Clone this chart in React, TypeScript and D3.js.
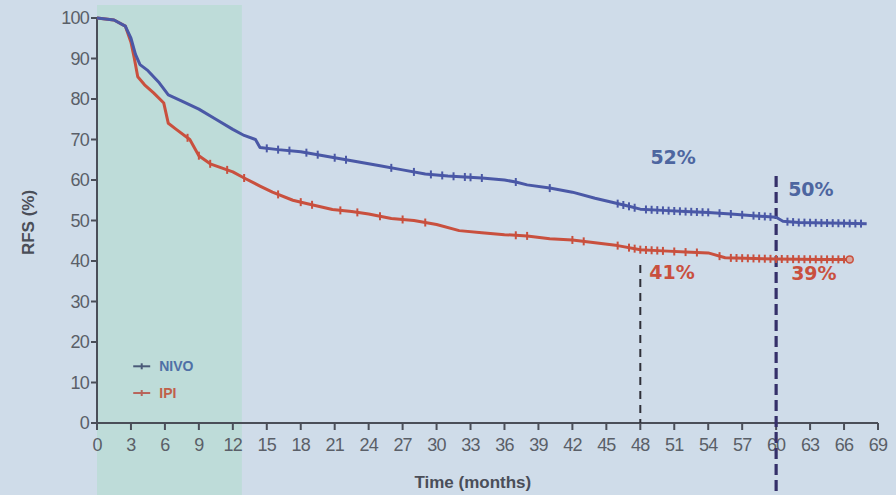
import React from "react";
import * as d3 from "d3";

// Kaplan–Meier relapse-free survival, NIVO vs IPI
const nivoTimes = [0, 1.5, 2.5, 3, 3.4, 3.8, 4.5, 5.5, 6.3, 7.5, 9, 10.5, 12, 13, 14, 14.4, 16, 18, 20, 21, 23, 25, 27, 29, 31, 34, 36, 37, 38, 40, 42, 44, 45.5, 47, 48, 50, 52, 54, 56, 58, 60, 60.6, 62, 66, 68];
const nivoRfs = [100, 99.5, 98, 95, 91, 88.5, 87, 84, 81, 79.5, 77.5, 75, 72.5, 71, 70, 68, 67.5, 67, 66, 65.5, 64.5, 63.5, 62.5, 61.5, 61, 60.5, 60, 59.5, 58.8, 58, 57, 55.5, 54.5, 53.5, 52.8, 52.5, 52.2, 52, 51.6, 51.2, 50.8, 49.8, 49.5, 49.3, 49.2];

const ipiTimes = [0, 1.5, 2.5, 3, 3.3, 3.6, 4.2, 5, 5.9, 6.3, 7, 8.2, 9, 10, 11, 12, 13, 14.4, 15.5, 17.3, 18.5, 20.8, 22.5, 24, 26, 28, 30, 32, 34, 36, 38, 40, 42, 44, 46, 48, 50, 52, 54, 55.5, 60, 64, 66.5];
const ipiRfs = [100, 99.5, 98, 94, 90, 85.5, 83.5, 81.5, 79, 74, 72.5, 70, 66, 64, 63, 62, 60.5, 58.5, 57, 55, 54.2, 52.7, 52.2, 51.6, 50.5, 50, 49, 47.5, 47, 46.5, 46.2, 45.5, 45.2, 44.5, 43.8, 42.8, 42.5, 42.2, 42, 40.8, 40.5, 40.4, 40.4];

const nivoCensored = [15, 16, 17, 18.5, 19.5, 21, 22, 26, 28, 29.5, 30.5, 31.5, 32.5, 33, 34, 37, 40, 46, 46.5, 47, 47.5, 48.5, 49, 49.5, 50, 50.5, 51, 51.5, 52, 52.5, 53, 53.5, 54, 55, 56, 57, 58, 58.5, 59, 59.5, 61, 61.5, 62, 62.5, 63, 63.5, 64, 64.5, 65, 65.5, 66, 66.5, 67, 67.5];
const ipiCensored = [8, 9, 10, 11.5, 13, 16, 18, 19, 21.5, 23, 25, 27, 29, 37, 38, 42, 43, 46, 47, 47.5, 48, 48.5, 49, 49.5, 50, 51, 52, 53, 55, 56, 56.5, 57, 57.5, 58, 58.5, 59, 59.5, 60, 60.5, 61, 61.5, 62, 62.5, 63, 63.5, 64, 64.5, 65, 65.5, 66];

const xTicks = d3.range(0, 70, 3);
const yTicks = d3.range(0, 101, 10);

// Landmark estimates
const landmarks = [
  { series: "NIVO", time: 48, value: 52 },
  { series: "NIVO", time: 60, value: 50 },
  { series: "IPI", time: 48, value: 41 },
  { series: "IPI", time: 60, value: 39 },
];

const W = 896;
const H = 495;
const BLUE = "#4a58a6";
const RED = "#c9503e";

export default function App() {
  const x = d3.scaleLinear().domain([0, 69]).range([97, 878]);
  const y = d3.scaleLinear().domain([0, 100]).range([423, 18]);

  const line = d3
    .line<[number, number]>()
    .x((d) => x(d[0]))
    .y((d) => y(d[1]))
    .curve(d3.curveLinear);

  const nivoPts = nivoTimes.map((t, i) => [t, nivoRfs[i]] as [number, number]);
  const ipiPts = ipiTimes.map((t, i) => [t, ipiRfs[i]] as [number, number]);

  const interp = (ts: number[], vs: number[], t: number) => {
    const i = d3.bisectRight(ts, t);
    if (i <= 0) return vs[0];
    if (i >= ts.length) return vs[vs.length - 1];
    const f = (t - ts[i - 1]) / (ts[i] - ts[i - 1]);
    return vs[i - 1] + f * (vs[i] - vs[i - 1]);
  };

  const font = "'Liberation Sans', Arial, sans-serif";
  const wide = "'DejaVu Sans', Verdana, sans-serif";

  const lm = (s: string, t: number) => landmarks.find((d) => d.series === s && d.time === t)!;

  return (
    <svg
      width={W}
      height={H}
      style={{ position: "absolute", left: 0, top: 0, display: "block" }}
      fontFamily={font}
    >
      <rect x={0} y={0} width={W} height={H} fill="#cfdce9" />
      {/* first-year treatment window */}
      <rect x={x(0)} y={5} width={x(12.8) - x(0)} height={H - 5} fill="#bedcd9" />

      {/* axes */}
      <g stroke="#4a4e58" strokeWidth={2}>
        <line x1={x(0)} x2={x(0)} y1={y(100)} y2={y(0)} />
        <line x1={x(0)} x2={x(69)} y1={y(0)} y2={y(0)} />
        {yTicks.map((v) => (
          <line key={"yt" + v} x1={x(0) - 6} x2={x(0)} y1={y(v)} y2={y(v)} />
        ))}
        {xTicks.map((v) => (
          <line key={"xt" + v} x1={x(v)} x2={x(v)} y1={y(0)} y2={y(0) + 7} />
        ))}
      </g>
      <g fill="#5a5f68" fontSize={18} letterSpacing={-0.8}>
        {yTicks.map((v) => (
          <text key={"yl" + v} x={x(0) - 8} y={y(v)} dy="0.35em" textAnchor="end">
            {v}
          </text>
        ))}
        {xTicks.map((v) => (
          <text key={"xl" + v} x={x(v)} y={y(0) + 28} textAnchor="middle">
            {v}
          </text>
        ))}
      </g>
      <text x={x(33.2)} y={488} textAnchor="middle" fontSize={17} fontWeight="bold" fill="#4a4e58">
        Time (months)
      </text>
      <text
        transform={`translate(34, ${y(50) + 2}) rotate(-90)`}
        textAnchor="middle"
        fontSize={17}
        fontWeight="bold"
        fill="#4a4e58"
      >
        RFS (%)
      </text>

      {/* landmark reference lines */}
      <line x1={x(48)} x2={x(48)} y1={y(39)} y2={y(0)} stroke="#2f3038" strokeWidth={2} strokeDasharray="8 6" />
      <line x1={x(60)} x2={x(60)} y1={y(61)} y2={H} stroke="#35306a" strokeWidth={3.2} strokeDasharray="11 5" />

      {/* survival curves */}
      <path d={line(ipiPts) || ""} fill="none" stroke={RED} strokeWidth={3} strokeLinejoin="round" />
      <path d={line(nivoPts) || ""} fill="none" stroke={BLUE} strokeWidth={3} strokeLinejoin="round" />
      <g stroke={RED} strokeWidth={2}>
        {ipiCensored.map((t, i) => {
          const v = interp(ipiTimes, ipiRfs, t);
          return <line key={"ic" + i} x1={x(t)} x2={x(t)} y1={y(v) - 4} y2={y(v) + 4} />;
        })}
      </g>
      <g stroke={BLUE} strokeWidth={2}>
        {nivoCensored.map((t, i) => {
          const v = interp(nivoTimes, nivoRfs, t);
          return <line key={"nc" + i} x1={x(t)} x2={x(t)} y1={y(v) - 4} y2={y(v) + 4} />;
        })}
      </g>
      <circle cx={x(66.5)} cy={y(40.4)} r={3.5} fill="#d8a8a0" stroke={RED} strokeWidth={1.5} />

      {/* landmark labels */}
      <g fontSize={19} fontWeight="bold" fontFamily={wide}>
        <text x={x(50.9)} y={y(lm("NIVO", 48).value) - 48} textAnchor="middle" fill="#4d66a0">
          {lm("NIVO", 48).value}%
        </text>
        <text x={x(60) + 12} y={y(lm("NIVO", 60).value) - 25} fill="#4d66a0">
          {lm("NIVO", 60).value}%
        </text>
        <text x={x(48) + 9} y={y(lm("IPI", 48).value) + 22} fill={RED}>
          {lm("IPI", 48).value}%
        </text>
        <text x={x(60) + 15} y={y(lm("IPI", 60).value) + 15} fill={RED}>
          {lm("IPI", 60).value}%
        </text>
      </g>

      {/* legend */}
      <g fontSize={14} fontWeight="bold">
        <line x1={x(3.2)} x2={x(4.7)} y1={y(14)} y2={y(14)} stroke="#4a5a78" strokeWidth={2} />
        <line x1={x(3.95)} x2={x(3.95)} y1={y(14) - 3} y2={y(14) + 3} stroke="#4a5a78" strokeWidth={2} />
        <text x={x(5.5)} y={y(14)} dy="0.35em" fill="#4f70a6">NIVO</text>
        <line x1={x(3.2)} x2={x(4.7)} y1={y(7.4)} y2={y(7.4)} stroke="#b8645a" strokeWidth={2} />
        <line x1={x(3.95)} x2={x(3.95)} y1={y(7.4) - 3} y2={y(7.4) + 3} stroke="#b8645a" strokeWidth={2} />
        <text x={x(5.5)} y={y(7.4)} dy="0.35em" fill="#c0604a">IPI</text>
      </g>
    </svg>
  );
}
